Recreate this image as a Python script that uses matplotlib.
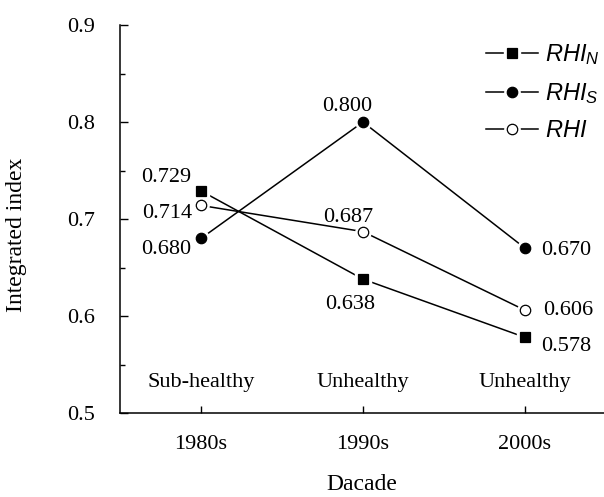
import matplotlib
matplotlib.use("Agg")
import matplotlib.pyplot as plt
from matplotlib.lines import Line2D
from matplotlib.ticker import MultipleLocator

plt.rcParams["font.family"] = "Liberation Serif"
plt.rcParams["mathtext.fontset"] = "custom"
plt.rcParams["mathtext.it"] = "Liberation Sans:italic"
plt.rcParams["mathtext.rm"] = "Liberation Sans"

decades = ["1980s", "1990s", "2000s"]
status = ["Sub-healthy", "Unhealthy", "Unhealthy"]
rhi_n = [0.729, 0.638, 0.578]
rhi_s = [0.680, 0.800, 0.670]
rhi = [0.714, 0.687, 0.606]

fig = plt.figure(figsize=(6.04, 4.97), dpi=100)
ax = fig.add_axes([0.1987, 0.169, 0.8013, 0.7806])
x = [1, 2, 3]

# lines, then white halo markers so lines stop short of the symbols
styles = [(rhi_n, "s", "black"), (rhi_s, "o", "black"), (rhi, "o", "white")]
handles = []
for vals, mk, fc in styles:
    ax.plot(x, vals, color="black", lw=1.1, zorder=2)
    ax.plot(x, vals, ls="none", marker=mk, ms=11, mfc="white", mec="white", zorder=3)
    ax.plot(x, vals, ls="none", marker=mk, ms=7.5, mfc=fc, mec="black", mew=0.9, zorder=4)
    ln = Line2D([], [], color="black", lw=1.1)
    halo = Line2D([], [], ls="none", marker=mk, ms=11, mfc="white", mec="white")
    mkr = Line2D([], [], ls="none", marker=mk, ms=7.5, mfc=fc, mec="black", mew=0.9)
    handles.append((ln, halo, mkr))

fs = 16
def lab(xi, v, dx, dy, ha):
    ax.annotate(f"{v:.3f}", (xi, v), xytext=(dx, dy), textcoords="offset points",
                ha=ha, va="center", fontsize=fs)

# value labels
lab(1, rhi_n[0], -7, 10, "right")
lab(1, rhi[0], -6.5, -6, "right")
lab(1, rhi_s[0], -7, -8, "right")
lab(2, rhi_s[1], -11.5, 11, "center")
lab(2, rhi[1], -11, 10.5, "center")
lab(2, rhi_n[1], -9.5, -18, "center")
lab(3, rhi_s[2], 11.5, -1.5, "left")
lab(3, rhi[2], 13, 0, "left")
lab(3, rhi_n[2], 11.5, -6.5, "left")

for xi, s in zip(x, status):
    ax.text(xi, 0.531, s, ha="center", va="center", fontsize=fs)

ax.set_xlim(0.5, 3.488)
ax.set_ylim(0.5, 0.9)
ax.set_xticks(x)
ax.set_xticklabels(decades, fontsize=fs)
ax.yaxis.set_major_locator(MultipleLocator(0.1))
ax.yaxis.set_minor_locator(MultipleLocator(0.05))
ax.set_yticklabels([f"{v:.1f}" for v in ax.get_yticks()], fontsize=fs)
ax.tick_params(axis="y", which="major", direction="in", length=6, width=1, pad=18)
ax.tick_params(axis="y", which="minor", direction="in", length=3.5, width=1)
ax.tick_params(axis="x", direction="in", length=5, width=1, pad=16)
for sp in ["top", "right"]:
    ax.spines[sp].set_visible(False)
for sp in ["left", "bottom"]:
    ax.spines[sp].set_linewidth(1.1)

ax.set_xlabel("Dacade", fontsize=17, labelpad=14)
ax.set_ylabel("Integrated index", fontsize=17, va="center", ha="center")
ax.yaxis.set_label_coords(-0.214, 0.46)

ax.legend(handles, [r"$RHI_N$", r"$RHI_S$", r"$RHI$"], loc="upper right",
          bbox_to_anchor=(1.035, 1.01), frameon=False, fontsize=17,
          handlelength=2.2, labelspacing=0.6, handletextpad=0.3)

fig.savefig("out.png", dpi=100)
